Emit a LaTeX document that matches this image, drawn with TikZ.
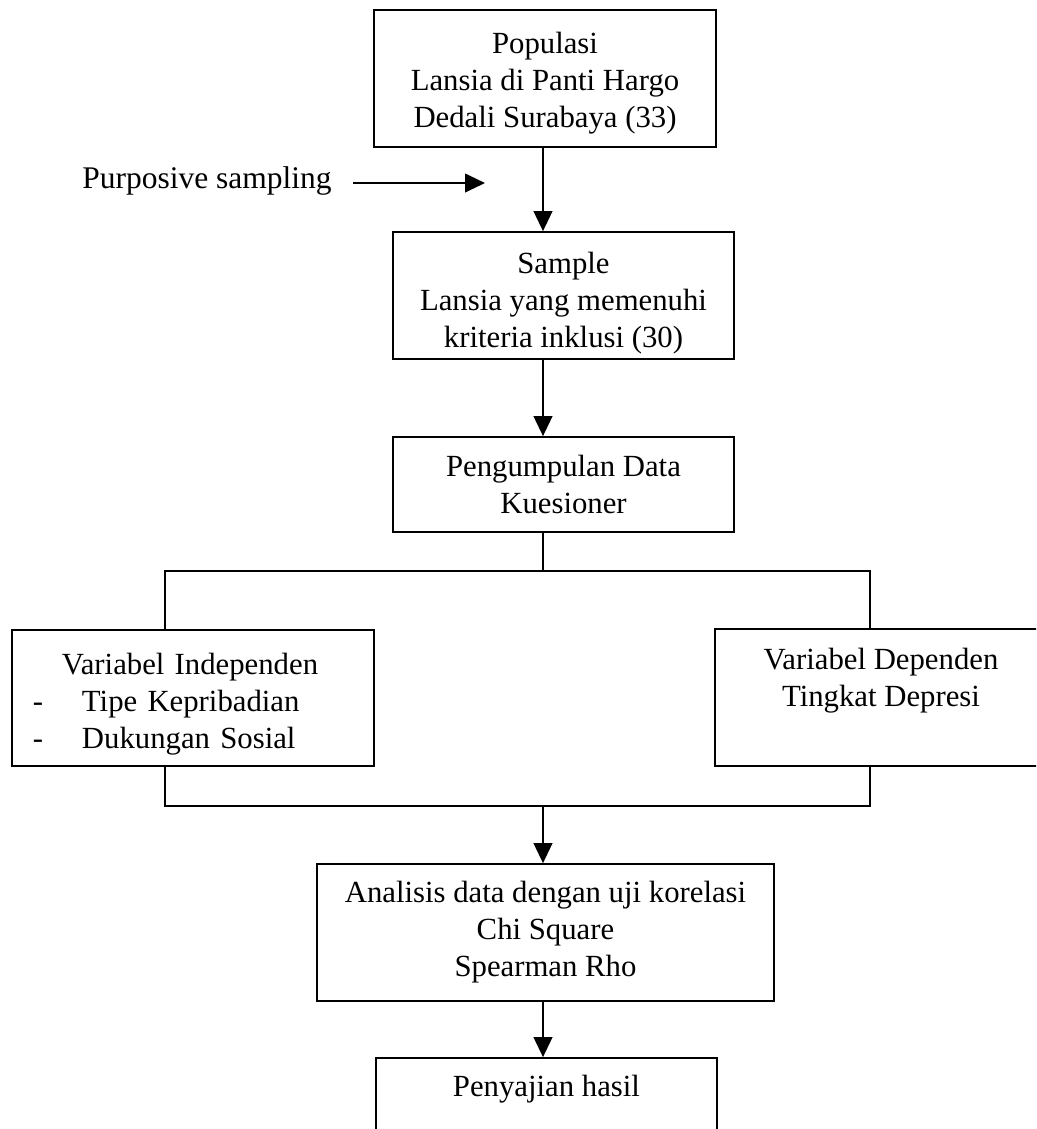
\documentclass[tikz,border=0pt]{standalone}
\usepackage{fontspec}
\setmainfont{Liberation Serif}
\usepackage{tikz}
\usetikzlibrary{arrows.meta}

\begin{document}
\begin{tikzpicture}[x=0.4pt, y=-0.4pt, line width=0.7pt,
    every node/.style={font=\fontsize{12.3}{14.8}\selectfont},
    kotak/.style={draw, inner sep=0pt, align=center},
    panah/.style={-{Triangle[length=8pt,width=7.5pt]}}]
    \path[use as bounding box] (0,0) rectangle (1036,1129);
    \clip (0,0) rectangle (1036,1129);

    % =====================
    % Population and sample
    % =====================
    \node[kotak, minimum width=136.8pt, minimum height=54.8pt] (pop) at (545,78.5)
        {\rule{0pt}{12.4pt}Populasi\\Lansia di Panti Hargo\\Dedali Surabaya (33)};
    \node[kotak, minimum width=136.4pt, minimum height=50.8pt] (sample) at (563.5,295.5)
        {\rule{0pt}{15pt}Sample\\Lansia yang memenuhi\\kriteria inklusi (30)};
    \node[kotak, minimum width=136.4pt, minimum height=38pt] (peng) at (563.5,484.5)
        {Pengumpulan Data\\Kuesioner};

    \node (purp) at (207,181) {\fontsize{12.6}{14.8}\selectfont Purposive sampling};
    \coordinate (ps) at (485,183);

    % Junction points of the brackets
    \coordinate (jt) at (543,571);
    \coordinate (jb) at (543,806);
    \coordinate (lt) at (165,571);
    \coordinate (rt) at (870,571);
    \coordinate (lb) at (165,806);
    \coordinate (rb) at (870,806);

    % =====================
    % Variables
    % =====================
    \node[kotak, align=left, text width=144.8pt, minimum height=54.4pt] (indep) at (193,698)
        {\rule{0pt}{13.2pt}\hspace*{20pt}Variabel Independen\\
         \hspace*{8.4pt}\makebox[19.6pt][l]{-}Tipe Kepribadian\\
         \hspace*{8.4pt}\makebox[19.6pt][l]{-}Dukungan Sosial};
    \node[kotak, minimum width=132.8pt, minimum height=54.8pt, text depth=16.5pt] (dep) at (881,697.5)
        {Variabel Dependen\\Tingkat Depresi};

    % =====================
    % Analysis and results
    % =====================
    \node[kotak, minimum width=182.8pt, minimum height=54.8pt] (anal) at (545.5,932.5)
        {Analisis data dengan uji korelasi\\Chi Square\\Spearman Rho};
    \node[kotak, minimum width=136.4pt, minimum height=38pt, text depth=15.5pt] (hasil) at (546.5,1105.5)
        {Penyajian hasil};

    % Connectors
    \draw[panah] ([xshift=5pt]purp.east |- ps) -- (ps);
    \draw[panah] (pop.south -| jb) -- (jb |- sample.north);
    \draw[panah] (sample.south -| jb) -- (jb |- peng.north);
    \draw (jt |- peng.south) -- (jt);
    \draw (indep.north -| lt) -- (lt) -- (rt) -- (dep.north -| rt);
    \draw (indep.south -| lb) -- (lb) -- (rb) -- (dep.south -| rb);
    \draw[panah] (jb) -- (jb |- anal.north);
    \draw[panah] (anal.south -| jb) -- (jb |- hasil.north);
\end{tikzpicture}
\end{document}
